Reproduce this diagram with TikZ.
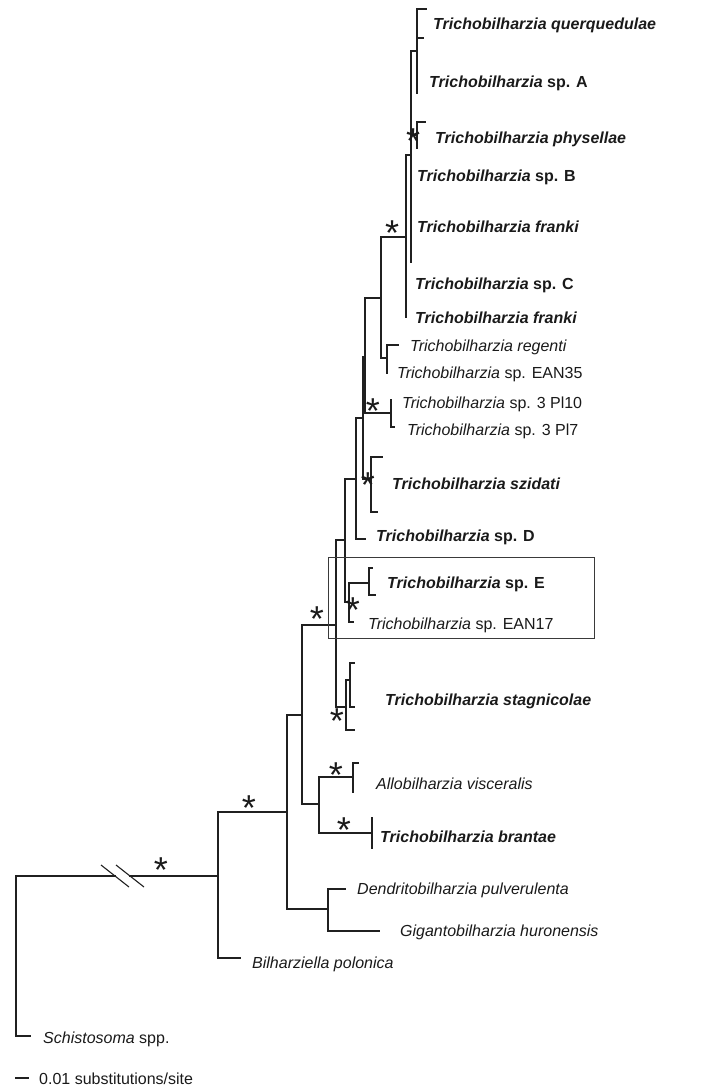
\documentclass[tikz,border=0pt]{standalone}
\usepackage{fontspec}
\setmainfont{Liberation Sans}
\definecolor{linec}{HTML}{202020}
\definecolor{txtc}{HTML}{1A1A1A}
\definecolor{boxc}{HTML}{3A3A3A}
\begin{document}
\begin{tikzpicture}[x=1pt,y=-1pt,
  br/.style={draw=linec, line width=1.3pt, line cap=rect},
  lab/.style={anchor=base west, inner sep=0pt, text=txtc, font=\fontsize{16}{19}\selectfont},
  sup/.style={anchor=center, inner sep=0pt, text=txtc, font=\fontsize{36}{36}\selectfont},
  boxline/.style={draw=boxc, line width=1pt}]
\path[use as bounding box] (0,0) rectangle (704,1092);
% ---------- tree coordinates ----------
\coordinate (R) at (16,956);
\coordinate (schisto) at (30,1036);
\coordinate (A) at (218,876);
\coordinate (bil) at (240,958);
\coordinate (B) at (287,812);
\coordinate (DG) at (328,909);
\coordinate (dend) at (345,889);
\coordinate (gig) at (379,931);
\coordinate (X) at (302,715);
\coordinate (AB) at (319,804);
\coordinate (allo) at (353,777);
\coordinate (allot) at (353,763);
\coordinate (allotk) at (358,763);
\coordinate (allob) at (353,792);
\coordinate (bran) at (372,833);
\coordinate (brant) at (372,818);
\coordinate (branb) at (372,848);
\coordinate (Y) at (336,625);
\coordinate (SO) at (346,707);
\coordinate (s3) at (354,730);
\coordinate (SI) at (350,680);
\coordinate (s1) at (354,663);
\coordinate (s2) at (354,707);
\coordinate (Z) at (345,540);
\coordinate (EE) at (349,602);
\coordinate (E) at (369,583);
\coordinate (e1) at (372,568);
\coordinate (e2) at (375,595);
\coordinate (ean17) at (353,622);
\coordinate (W) at (356,479);
\coordinate (spD) at (365,539);
\coordinate (N1) at (363,418);
\coordinate (szN) at (371,479);
\coordinate (sz1) at (382,457);
\coordinate (sz2) at (377,512);
\coordinate (M) at (365,357);
\coordinate (P) at (381,298);
\coordinate (R2) at (387,358);
\coordinate (reg) at (398,345);
\coordinate (ean35) at (387,373);
\coordinate (Pl) at (391,413);
\coordinate (pl1) at (391,400);
\coordinate (pl2) at (394,427);
\coordinate (Q) at (406,237);
\coordinate (fr2) at (406,317);
\coordinate (S) at (411,155);
\coordinate (sl) at (411,262);
\coordinate (T) at (417,51);
\coordinate (q1) at (426,9);
\coordinate (q2) at (423,38);
\coordinate (q3) at (417,93);
\coordinate (Ph) at (417,135);
\coordinate (ph1) at (425,122);
\coordinate (ph2) at (417,148);
\coordinate (brkA) at (115,876);
\coordinate (brkB) at (130,876);
% ---------- vertical spans of internal nodes ----------
\foreach \n/\t/\b in {R/A/schisto, A/B/bil, B/X/DG, DG/dend/gig, X/Y/AB, AB/allo/bran,
  Y/Z/SO, SO/SI/s3, SI/s1/s2, Z/W/EE, EE/E/ean17, E/e1/e2, W/N1/spD, N1/M/szN,
  szN/sz1/sz2, M/P/Pl, P/Q/R2, R2/reg/ean35, Pl/pl1/pl2, Q/S/fr2, S/T/sl, T/q1/q3, Ph/ph1/ph2}
  \draw[br] (\n |- \t) -- (\n |- \b);
% ---------- horizontal branches ----------
\foreach \p/\c in {R/schisto, A/bil, A/B, B/X, B/DG, DG/dend, DG/gig, X/AB, X/Y, AB/allo, AB/bran,
  Y/Z, Y/SO, SO/SI, SO/s3, SI/s1, SI/s2, Z/W, Z/EE, EE/E, EE/ean17, E/e1, E/e2, W/N1, W/spD,
  N1/M, N1/szN, szN/sz1, szN/sz2, M/P, M/Pl, P/Q, P/R2, R2/reg, Pl/pl2, Q/S, S/T, S/Ph,
  T/q1, T/q2, Ph/ph1}
  \draw[br] (\p |- \c) -- (\c);
% leaf ticks
\draw[br] (allot) -- (allob);
\draw[br] (allot) -- (allotk);
\draw[br] (brant) -- (branb);
% root branch with break
\draw[br] (R |- A) -- (brkA);
\draw[br] (brkB) -- (A);
\draw[linec, line width=1.1pt] (101,865) -- (129,887);
\draw[linec, line width=1.1pt] (116,865) -- (144,887);
% ---------- box ----------
\draw[boxline] (328,557) rectangle (594,638);
% ---------- support stars ----------
\foreach \xx/\yy [count=\i] in {413/135, 392/227, 373/405, 368/479, 353/604, 317/613,
  337/715, 336/769, 344/824, 249/802, 161/864}
  \node[sup] (st\i) at (\xx,\yy+6.5) {*};
% ---------- labels ----------
\node[lab] (l1) at (433,29) {\textbf{\textit{Trichobilharzia querquedulae}}};
\node[lab] (l2) at (429,87) {\textbf{\textit{Trichobilharzia} sp. A}};
\node[lab] (l3) at (435,143) {\textbf{\textit{Trichobilharzia physellae}}};
\node[lab] (l4) at (417,181) {\textbf{\textit{Trichobilharzia} sp. B}};
\node[lab] (l5) at (417,232) {\textbf{\textit{Trichobilharzia franki}}};
\node[lab] (l6) at (415,289) {\textbf{\textit{Trichobilharzia} sp. C}};
\node[lab] (l7) at (415,323) {\textbf{\textit{Trichobilharzia franki}}};
\node[lab] (l8) at (410,351) {\textit{Trichobilharzia regenti}};
\node[lab] (l9) at (397,378) {\textit{Trichobilharzia} sp. EAN35};
\node[lab] (l10) at (402,408) {\textit{Trichobilharzia} sp. 3 Pl10};
\node[lab] (l11) at (407,435) {\textit{Trichobilharzia} sp. 3 Pl7};
\node[lab] (l12) at (392,489) {\textbf{\textit{Trichobilharzia szidati}}};
\node[lab] (l13) at (376,541) {\textbf{\textit{Trichobilharzia} sp. D}};
\node[lab] (l14) at (387,588) {\textbf{\textit{Trichobilharzia} sp. E}};
\node[lab] (l15) at (368,629) {\textit{Trichobilharzia} sp. EAN17};
\node[lab] (l16) at (385,705) {\textbf{\textit{Trichobilharzia stagnicolae}}};
\node[lab] (l17) at (376,789) {\textit{Allobilharzia visceralis}};
\node[lab] (l18) at (380,842) {\textbf{\textit{Trichobilharzia brantae}}};
\node[lab] (l19) at (357,894) {\textit{Dendritobilharzia pulverulenta}};
\node[lab] (l20) at (400,936) {\textit{Gigantobilharzia huronensis}};
\node[lab] (l21) at (252,968) {\textit{Bilharziella polonica}};
\node[lab] (l22) at (43,1043) {\textit{Schistosoma} spp.};
% ---------- scale bar ----------
\coordinate (sb1) at (16,1078);
\coordinate (sb2) at (28,1078);
\draw[br] (sb1) -- (sb2);
\node[lab] (l23) at (39,1084) {0.01 substitutions/site};
\end{tikzpicture}
\end{document}
